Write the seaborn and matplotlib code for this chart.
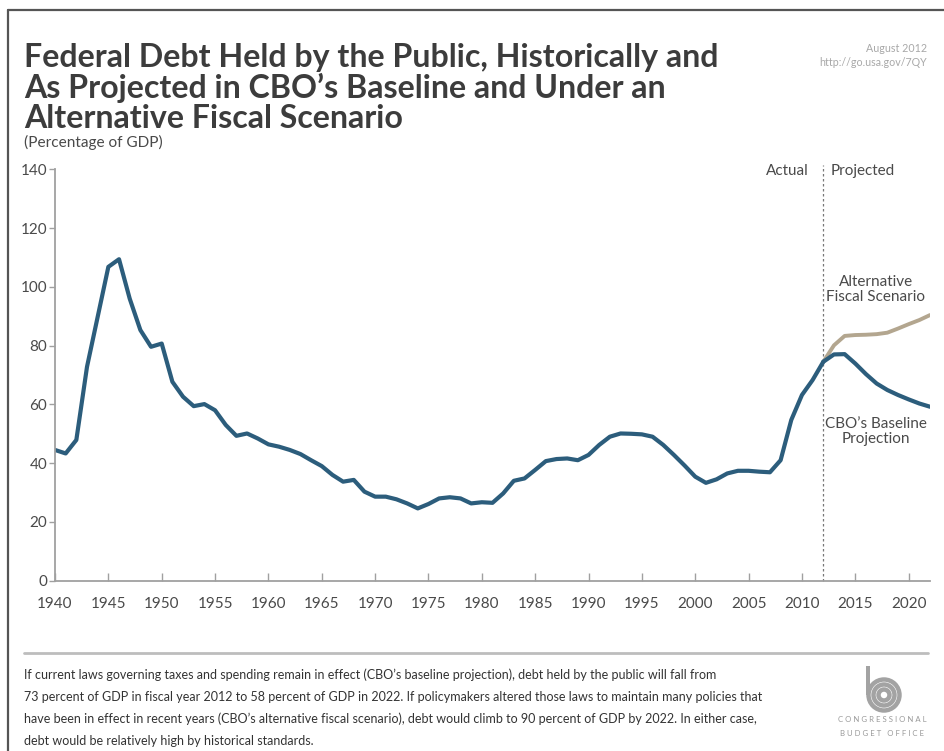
import numpy as np
import pandas as pd
import seaborn as sns
import matplotlib.pyplot as plt
from matplotlib.lines import Line2D
from matplotlib.patches import Circle, Rectangle

# ---- data (percentage of GDP) ----
actual_years = list(range(1940, 2013))
actual_debt = [
    44.5, 43.3, 47.9, 72.8, 89.8, 106.8, 109.4, 96.0, 85.3, 79.6,
    80.7, 67.7, 62.6, 59.4, 60.1, 58.0, 53.0, 49.3, 50.1, 48.4,
    46.4, 45.6, 44.5, 43.1, 41.0, 39.0, 36.0, 33.7, 34.3, 30.3,
    28.6, 28.6, 27.7, 26.3, 24.6, 26.1, 28.0, 28.4, 28.0, 26.3,
    26.7, 26.5, 29.7, 34.0, 34.8, 37.7, 40.7, 41.4, 41.6, 41.0,
    42.8, 46.2, 49.0, 50.1, 50.0, 49.8, 49.0, 46.2, 42.8, 39.2,
    35.4, 33.3, 34.5, 36.5, 37.4, 37.4, 37.1, 36.9, 41.0, 54.7,
    63.2, 68.3, 74.5,
]
proj_years = list(range(2012, 2023))
baseline_debt = [74.5, 77.0, 77.1, 73.9, 70.3, 67.1, 64.9, 63.2, 61.7, 60.3, 59.2]
alternative_debt = [74.5, 80.1, 83.3, 83.6, 83.7, 83.9, 84.4, 85.8, 87.3, 88.7, 90.4]

x_ticks = list(range(1940, 2021, 5))
y_ticks = list(range(0, 141, 20))

title_lines = [
    "Federal Debt Held by the Public, Historically and",
    "As Projected in CBO\u2019s Baseline and Under an",
    "Alternative Fiscal Scenario",
]
subtitle = "(Percentage of GDP)"
note_lines = [
    "If current laws governing taxes and spending remain in effect (CBO\u2019s baseline projection), debt held by the public will fall from",
    "73 percent of GDP in fiscal year 2012 to 58 percent of GDP in 2022. If policymakers altered those laws to maintain many policies that",
    "have been in effect in recent years (CBO\u2019s alternative fiscal scenario), debt would climb to 90 percent of GDP by 2022. In either case,",
    "debt would be relatively high by historical standards.",
]

BLUE = "#2c5d7c"
TAN = "#b3a68f"
GRAY_TXT = "#4a4a4a"
AXIS_GRAY = "#a0a0a0"
LOGO_GRAY = "#a3a3a3"

sns.set_theme(style="white")
plt.rcParams["font.family"] = ["Lato", "DejaVu Sans"]

W, H = 944, 751
fig = plt.figure(figsize=(W / 100, H / 100), dpi=100)
fig.patch.set_facecolor("white")
renderer = fig.canvas.get_renderer()


def fx(px):
    return px / W


def fy(py):
    return 1 - py / H


def fit_width(txt, target_px):
    """Rescale a text's font size so that it spans target_px pixels."""
    w = txt.get_window_extent(renderer=renderer).width
    txt.set_fontsize(txt.get_fontsize() * target_px / w)
    return txt.get_fontsize()


ax = fig.add_axes([fx(55), fy(580.7), fx(930) - fx(55), fy(169.3) - fy(580.7)])

actual_df = pd.DataFrame({"year": actual_years, "debt": actual_debt})
proj_df = pd.DataFrame({"year": proj_years, "baseline": baseline_debt,
                        "alternative": alternative_debt})

sns.lineplot(data=proj_df, x="year", y="alternative", ax=ax, color=TAN,
             linewidth=2.8, solid_joinstyle="round", solid_capstyle="round")
sns.lineplot(data=actual_df, x="year", y="debt", ax=ax, color=BLUE,
             linewidth=3.0, solid_joinstyle="round", solid_capstyle="round")
sns.lineplot(data=proj_df, x="year", y="baseline", ax=ax, color=BLUE,
             linewidth=3.0, solid_joinstyle="round", solid_capstyle="round")

ax.set_xlim(1940, 2022)
ax.set_ylim(0, 140)
ax.set_xlabel("")
ax.set_ylabel("")
ax.set_xticks(x_ticks)
ax.set_yticks(y_ticks)
ax.set_xticklabels([str(v) for v in x_ticks])
ax.set_yticklabels([str(v) for v in y_ticks])

for side in ["top", "right"]:
    ax.spines[side].set_visible(False)
for side in ["left", "bottom"]:
    ax.spines[side].set_color(AXIS_GRAY)
    ax.spines[side].set_linewidth(1.3)

ax.tick_params(axis="x", direction="in", length=6, width=1, color=AXIS_GRAY,
               pad=12, labelsize=11, labelcolor=GRAY_TXT, bottom=True)
ax.tick_params(axis="y", direction="out", length=4, width=1, color=AXIS_GRAY,
               pad=1.5, labelsize=11, labelcolor=GRAY_TXT, left=True)

# actual / projected divider
ax.plot([2012, 2012], [0, 141.5], color="#777777", linewidth=0.9,
        linestyle=(0, (2, 2)), clip_on=False, zorder=1)
ax.text(2010.6, 139.5, "Actual", ha="right", va="center", fontsize=11,
        color=GRAY_TXT)
ax.text(2012.7, 139.5, "Projected", ha="left", va="center", fontsize=11,
        color=GRAY_TXT)
ax.text(2016.9, 99.2, "Alternative\nFiscal Scenario", ha="center",
        va="center", fontsize=11, color=GRAY_TXT, linespacing=1.1)
ax.text(2016.9, 50.7, "CBO\u2019s Baseline\nProjection", ha="center",
        va="center", fontsize=11, color=GRAY_TXT, linespacing=1.1)

# frame, title block and notes
fig.add_artist(Line2D([fx(7.5), 1], [fy(10), fy(10)], color="#555555",
                      linewidth=1.6))
fig.add_artist(Line2D([fx(7.5), fx(7.5)], [fy(10), 0], color="#555555",
                      linewidth=1.6))

title_txts = []
for i, line in enumerate(title_lines):
    title_txts.append(fig.text(fx(24), fy(58 + 30 * i), line, ha="left",
                               va="center", fontsize=19, fontweight="bold",
                               color="#3c3c3c"))
tsize = fit_width(title_txts[0], 694)
for t in title_txts[1:]:
    t.set_fontsize(tsize)

sub = fig.text(fx(24), fy(142), subtitle, ha="left", va="center", fontsize=9,
               color=GRAY_TXT)
fit_width(sub, 139)
fig.text(fx(927), fy(49), "August 2012", ha="right", va="center",
         fontsize=7.7, color="#a8a8a8")
fig.text(fx(927), fy(62), "http://go.usa.gov/7QY", ha="right", va="center",
         fontsize=7.7, color="#a8a8a8")

fig.add_artist(Line2D([fx(24), fx(928)], [fy(653), fy(653)], color="#bdbdbd",
                      linewidth=2))
note_txts = []
for i, line in enumerate(note_lines):
    note_txts.append(fig.text(fx(24), fy(675 + 22 * i), line, ha="left",
                              va="center", fontsize=8.6, color="#333333"))
nsize = fit_width(note_txts[0], 688)
for t in note_txts[1:]:
    t.set_fontsize(nsize)

# CBO emblem
lax = fig.add_axes([fx(858), fy(716), fx(908) - fx(858), fy(664) - fy(716)])
lax.set_xlim(-25, 25)
lax.set_ylim(-26, 26)
lax.set_aspect("equal")
lax.axis("off")
for r in [5.5, 10.5, 15.5]:
    lax.add_patch(Circle((1, -5), r, fill=False, edgecolor=LOGO_GRAY,
                         linewidth=3.2))
lax.add_patch(Rectangle((-17.5, -5), 4.2, 29, facecolor=LOGO_GRAY,
                        edgecolor="none"))
fig.text(fx(882), fy(720), "C O N G R E S S I O N A L", ha="center",
         va="center", fontsize=5.6, color="#999999")
fig.text(fx(882), fy(733), "B U D G E T   O F F I C E", ha="center",
         va="center", fontsize=5.6, color="#999999")

fig.savefig("out.png", dpi=100, facecolor="white")
